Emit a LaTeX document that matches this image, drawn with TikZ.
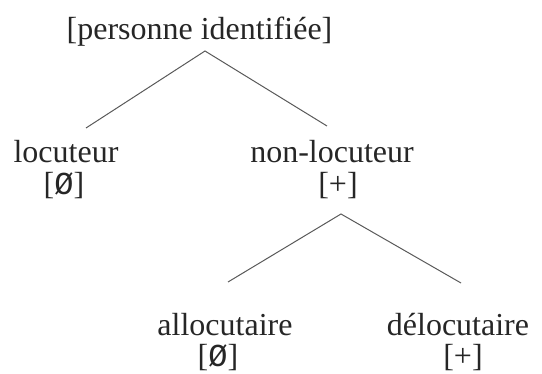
\documentclass[tikz,border=0pt]{standalone}
\usepackage{fontspec}
\setmainfont{Liberation Serif}
\newfontfamily\zerofont{Liberation Mono}
\usetikzlibrary{positioning}

\begin{document}
\begin{tikzpicture}[%
        x=1pt, y=-1pt,
        feat/.style={anchor=base, inner sep=0pt, text=black!85,
          font=\fontsize{32}{38}\selectfont},
        branch/.style={draw=black!65, line width=1pt}
        ]
        \useasboundingbox (0,0) rectangle (542,374);

        \node[feat] (pers) at (199.5,40) {[personne identifiée]};
        \node[feat] (loc) at (66,163) {locuteur};
        \node[feat] (locval) at (64,195) {[{\zerofont Ø}]};
        \node[feat] (nonloc) at (332,163) {non-locuteur};
        \node[feat] (nonlocval) at (338,195) {[+]};
        \node[feat] (alloc) at (225,336) {allocutaire};
        \node[feat] (allocval) at (218,367) {[{\zerofont Ø}]};
        \node[feat] (deloc) at (458,336) {délocutaire};
        \node[feat] (delocval) at (463,367) {[+]};

        \coordinate (persfork) at (205,51);
        \coordinate (locend) at (86,128);
        \coordinate (nonlocend) at (327,126);
        \coordinate (nonlocfork) at (341,214);
        \coordinate (allocend) at (228,282);
        \coordinate (delocend) at (461,283);

        \draw[branch] (locend) -- (persfork) -- (nonlocend);
        \draw[branch] (allocend) -- (nonlocfork) -- (delocend);

    \end{tikzpicture}
\end{document}
